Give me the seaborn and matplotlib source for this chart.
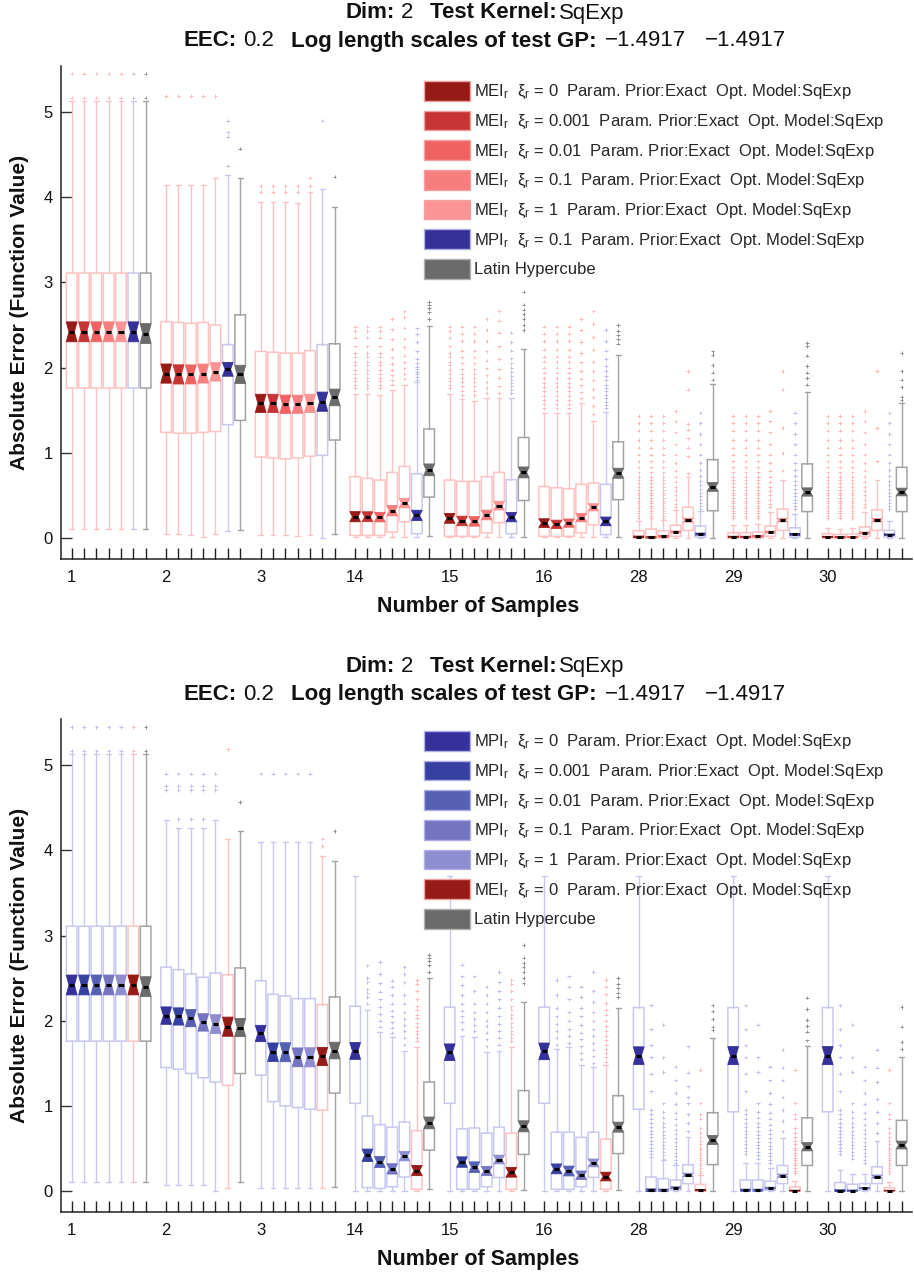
import numpy as np
import pandas as pd
import matplotlib
matplotlib.use("Agg")
import matplotlib.pyplot as plt
import seaborn as sns
from matplotlib.patches import Patch

sns.set_theme(style="white")
plt.rcParams['font.family'] = ['Liberation Sans', 'DejaVu Sans']
plt.rcParams['mathtext.fontset'] = 'custom'
plt.rcParams['mathtext.rm'] = 'Liberation Sans'
plt.rcParams['mathtext.it'] = 'Liberation Sans:italic'
plt.rcParams['mathtext.bf'] = 'Liberation Sans:bold'

# ---------------- data ----------------
GROUP_LABELS = ["1", "2", "3", "14", "15", "16", "28", "29", "30"]
N_RUNS = 330  # runs per box (sets notch width)

# TOP panel: series = MEI xi 0, 0.001, 0.01, 0.1, 1, MPI 0.1, LHC
TOP_METHOD = ["MEI", "MEI", "MEI", "MEI", "MEI", "MPI"]
TOP_XI = ["0", "0.001", "0.01", "0.1", "1", "0.1"]
TOP_KIND = ["MEI", "MEI", "MEI", "MEI", "MEI", "MPI", "LHC"]
TOP_FILL = ["#961b16", "#c73434", "#f06262", "#f77e7e", "#fb9494", "#363099", "#6b6b6b"]

TOP_Q1 = [[1.76, 1.76, 1.76, 1.76, 1.76, 1.76, 1.76],
          [1.24, 1.23, 1.23, 1.24, 1.25, 1.33, 1.38],
          [0.95, 0.94, 0.93, 0.94, 0.96, 0.97, 1.15],
          [0.03, 0.03, 0.03, 0.07, 0.19, 0.05, 0.48],
          [0.02, 0.02, 0.02, 0.06, 0.18, 0.05, 0.44],
          [0.02, 0.02, 0.02, 0.06, 0.156, 0.04, 0.45],
          [0.0, 0.0, 0.0, 0.02, 0.09, 0.01, 0.32],
          [0.0, 0.0, 0.0, 0.02, 0.09, 0.01, 0.31],
          [0.0, 0.0, 0.0, 0.02, 0.09, 0.01, 0.31]]
TOP_MED = [[2.42, 2.42, 2.42, 2.42, 2.42, 2.42, 2.40],
           [1.93, 1.92, 1.92, 1.93, 1.95, 1.98, 1.92],
           [1.58, 1.58, 1.57, 1.57, 1.58, 1.60, 1.65],
           [0.25, 0.25, 0.245, 0.32, 0.41, 0.265, 0.80],
           [0.23, 0.20, 0.195, 0.27, 0.38, 0.245, 0.77],
           [0.175, 0.16, 0.175, 0.24, 0.36, 0.195, 0.76],
           [0.015, 0.01, 0.02, 0.07, 0.21, 0.046, 0.60],
           [0.015, 0.015, 0.02, 0.07, 0.21, 0.043, 0.54],
           [0.015, 0.01, 0.013, 0.06, 0.21, 0.04, 0.54]]
TOP_Q3 = [[3.11, 3.11, 3.11, 3.11, 3.11, 3.11, 3.11],
          [2.54, 2.53, 2.52, 2.53, 2.50, 2.27, 2.62],
          [2.19, 2.18, 2.17, 2.17, 2.20, 2.27, 2.28],
          [0.72, 0.70, 0.68, 0.77, 0.84, 0.755, 1.28],
          [0.68, 0.665, 0.665, 0.72, 0.77, 0.685, 1.18],
          [0.605, 0.59, 0.58, 0.63, 0.645, 0.63, 1.13],
          [0.086, 0.105, 0.086, 0.15, 0.36, 0.14, 0.92],
          [0.063, 0.063, 0.07, 0.14, 0.34, 0.12, 0.87],
          [0.05, 0.043, 0.047, 0.13, 0.33, 0.09, 0.83]]
TOP_WLO = [[0.10, 0.10, 0.10, 0.10, 0.10, 0.10, 0.10],
           [0.05, 0.05, 0.035, 0.01, 0.05, 0.08, 0.09],
           [0.03, 0.03, 0.03, 0.02, 0.03, 0.0, 0.05],
           [0.01, 0.01, 0.01, 0.01, 0.01, 0.01, 0.02],
           [0.01, 0.01, 0.01, 0.01, 0.01, 0.01, 0.01],
           [0.01, 0.01, 0.01, 0.01, 0.01, 0.01, 0.01],
           [0.0, 0.0, 0.0, 0.0, 0.0, 0.0, 0.0],
           [0.0, 0.0, 0.0, 0.0, 0.0, 0.0, 0.0],
           [0.0, 0.0, 0.0, 0.0, 0.0, 0.0, 0.0]]
TOP_WHI = [[5.13, 5.13, 5.13, 5.13, 5.13, 5.13, 5.13],
           [4.14, 4.14, 4.14, 4.14, 4.23, 4.26, 4.23],
           [3.94, 3.94, 3.94, 3.93, 4.06, 4.10, 3.88],
           [1.69, 1.69, 1.68, 1.74, 1.80, 1.83, 2.49],
           [1.69, 1.63, 1.61, 1.64, 1.64, 1.64, 2.22],
           [1.47, 1.47, 1.47, 1.58, 1.37, 1.48, 2.15],
           [0.20, 0.235, 0.21, 0.33, 0.715, 0.32, 1.81],
           [0.15, 0.15, 0.17, 0.31, 0.68, 0.28, 1.71],
           [0.12, 0.11, 0.12, 0.30, 0.68, 0.20, 1.58]]

FL_G1 = [5.17, 5.45]
FL_MEI_14 = [1.76, 1.80, 1.84, 1.88, 1.93, 1.97, 2.03, 2.07, 2.13, 2.17, 2.25, 2.35, 2.43, 2.48]
FL_MEI_15 = [1.68, 1.73, 1.78, 1.83, 1.88, 1.93, 1.98, 2.05, 2.12, 2.20, 2.31, 2.40, 2.48]
FL_MEI_16 = [1.52, 1.57, 1.62, 1.67, 1.72, 1.77, 1.82, 1.88, 1.94, 2.00, 2.07, 2.13, 2.21, 2.31, 2.40, 2.48]
FL_MEI_LATE = [0.23, 0.26, 0.29, 0.32, 0.35, 0.38, 0.41, 0.44, 0.47, 0.50, 0.53, 0.56, 0.60,
               0.64, 0.68, 0.72, 0.77, 0.83, 0.90, 0.98, 1.06, 1.15, 1.26, 1.35, 1.43]
FL_MEI01_LATE = [0.36, 0.40, 0.45, 0.50, 0.55, 0.60, 0.66, 0.72, 0.79, 0.88, 0.98, 1.10, 1.24, 1.37, 1.49]
FL_MPI_LATE = [0.34, 0.37, 0.41, 0.45, 0.49, 0.53, 0.57, 0.62, 0.67, 0.73, 0.80, 0.88, 0.98,
               1.10, 1.22, 1.35, 1.47]

TOP_FLIERS = [
    [FL_G1] * 7,
    [[5.19]] * 5 + [[4.37, 4.71, 4.76, 4.90], [4.57]],
    [[4.06, 4.13]] * 4 + [[4.13, 4.23], [4.90], [4.24]],
    [FL_MEI_14, FL_MEI_14, FL_MEI_14,
     [1.80, 1.85, 1.91, 1.97, 2.04, 2.12, 2.22, 2.33, 2.45, 2.57],
     [1.87, 1.93, 1.99, 2.06, 2.14, 2.24, 2.34, 2.47, 2.59, 2.66],
     [1.86, 1.89, 1.92, 1.95, 1.98, 2.01, 2.05, 2.10, 2.19, 2.30, 2.39, 2.46],
     [2.57, 2.65, 2.70, 2.74, 2.77]],
    [FL_MEI_14, FL_MEI_15, FL_MEI_15,
     [1.70, 1.76, 1.83, 1.91, 1.99, 2.08, 2.19, 2.31, 2.44, 2.57],
     [1.70, 1.78, 1.88, 1.98, 2.10, 2.25, 2.41, 2.55, 2.66],
     [1.70, 1.74, 1.78, 1.82, 1.86, 1.90, 1.95, 2.00, 2.05, 2.11, 2.20, 2.30, 2.41],
     [2.44, 2.50, 2.57, 2.63, 2.68, 2.74, 2.89]],
    [FL_MEI_16, FL_MEI_16, FL_MEI_16,
     [1.64, 1.71, 1.79, 1.87, 1.96, 2.06, 2.17, 2.30, 2.44, 2.57],
     [1.45, 1.55, 1.65, 1.75, 1.85, 1.96, 2.07, 2.21, 2.36, 2.51, 2.66],
     [1.52, 1.56, 1.60, 1.64, 1.68, 1.72, 1.76, 1.80, 1.85, 1.90, 1.96, 2.02, 2.10, 2.20, 2.31, 2.44],
     [2.28, 2.33, 2.38, 2.43, 2.50]],
    [FL_MEI_LATE, FL_MEI_LATE, FL_MEI_LATE, FL_MEI01_LATE,
     [0.76, 0.96, 1.06, 1.17, 1.27, 1.34, 1.74, 1.96], FL_MPI_LATE,
     [1.86, 1.94, 2.03, 2.15, 2.19]],
    [FL_MEI_LATE, FL_MEI_LATE, FL_MEI_LATE, FL_MEI01_LATE,
     [0.79, 1.00, 1.29, 1.74, 1.96], FL_MPI_LATE,
     [1.80, 1.88, 1.94, 2.02, 2.14, 2.25, 2.29]],
    [FL_MEI_LATE, FL_MEI_LATE, FL_MEI_LATE, FL_MEI01_LATE,
     [0.90, 1.29, 1.96], FL_MPI_LATE,
     [1.62, 1.66, 1.77, 1.86, 1.96, 2.17]],
]

# BOTTOM panel: series = MPI xi 0, 0.001, 0.01, 0.1, 1, MEI 0, LHC
BOT_METHOD = ["MPI", "MPI", "MPI", "MPI", "MPI", "MEI"]
BOT_XI = ["0", "0.001", "0.01", "0.1", "1", "0"]
BOT_KIND = ["MPI", "MPI", "MPI", "MPI", "MPI", "MEI", "LHC"]
BOT_FILL = ["#35309a", "#3640a0", "#5560b3", "#7474c1", "#8d8dd0", "#961b16", "#6b6b6b"]

BOT_Q1 = [[1.76, 1.76, 1.76, 1.76, 1.76, 1.76, 1.76],
          [1.45, 1.43, 1.38, 1.33, 1.28, 1.24, 1.38],
          [1.36, 1.05, 1.00, 0.98, 0.96, 0.95, 1.15],
          [1.03, 0.04, 0.03, 0.05, 0.165, 0.02, 0.48],
          [1.03, 0.02, 0.02, 0.05, 0.158, 0.02, 0.43],
          [1.03, 0.02, 0.02, 0.05, 0.16, 0.02, 0.44],
          [0.96, 0.0, 0.0, 0.01, 0.087, 0.0, 0.31],
          [0.93, 0.0, 0.0, 0.01, 0.087, 0.0, 0.30],
          [0.93, 0.0, 0.0, 0.01, 0.087, 0.0, 0.30]]
BOT_MED = [[2.42, 2.42, 2.42, 2.42, 2.42, 2.42, 2.40],
           [2.06, 2.05, 2.03, 1.98, 1.96, 1.93, 1.92],
           [1.85, 1.63, 1.63, 1.57, 1.57, 1.58, 1.65],
           [1.645, 0.42, 0.34, 0.26, 0.41, 0.24, 0.80],
           [1.63, 0.34, 0.28, 0.235, 0.37, 0.22, 0.76],
           [1.64, 0.26, 0.235, 0.185, 0.33, 0.17, 0.75],
           [1.59, 0.01, 0.01, 0.04, 0.19, 0.01, 0.60],
           [1.59, 0.01, 0.01, 0.035, 0.18, 0.005, 0.52],
           [1.59, 0.005, 0.005, 0.035, 0.17, 0.005, 0.54]]
BOT_Q3 = [[3.11, 3.11, 3.11, 3.11, 3.11, 3.11, 3.11],
          [2.63, 2.60, 2.55, 2.51, 2.56, 2.54, 2.62],
          [2.47, 2.31, 2.29, 2.26, 2.26, 2.19, 2.28],
          [2.17, 0.88, 0.78, 0.75, 0.81, 0.71, 1.28],
          [2.16, 0.73, 0.74, 0.68, 0.75, 0.68, 1.18],
          [2.16, 0.69, 0.69, 0.63, 0.69, 0.61, 1.12],
          [2.155, 0.165, 0.145, 0.13, 0.31, 0.078, 0.92],
          [2.155, 0.13, 0.13, 0.115, 0.30, 0.05, 0.86],
          [2.155, 0.10, 0.08, 0.087, 0.285, 0.04, 0.83]]
BOT_WLO = [[0.10, 0.10, 0.10, 0.10, 0.10, 0.10, 0.10],
           [0.075, 0.075, 0.07, 0.07, 0.0, 0.04, 0.10],
           [0.03, 0.03, 0.03, 0.03, 0.03, 0.03, 0.05],
           [0.0, 0.0, 0.0, 0.0, 0.0, 0.0, 0.02],
           [0.0, 0.0, 0.0, 0.0, 0.0, 0.0, 0.01],
           [0.0, 0.0, 0.0, 0.0, 0.0, 0.0, 0.01],
           [0.0, 0.0, 0.0, 0.0, 0.0, 0.0, 0.0],
           [0.0, 0.0, 0.0, 0.0, 0.0, 0.0, 0.0],
           [0.0, 0.0, 0.0, 0.0, 0.0, 0.0, 0.0]]
BOT_WHI = [[5.13, 5.13, 5.13, 5.13, 5.13, 5.13, 5.13],
           [4.36, 4.26, 4.26, 4.26, 4.36, 4.14, 4.23],
           [4.10, 4.10, 4.10, 4.10, 4.10, 3.94, 3.88],
           [3.70, 2.13, 1.87, 1.81, 1.65, 1.69, 2.50],
           [3.70, 1.82, 1.81, 1.63, 1.65, 1.69, 2.22],
           [3.70, 1.67, 1.69, 1.48, 1.46, 1.48, 2.15],
           [3.70, 0.40, 0.36, 0.31, 0.63, 0.19, 1.80],
           [3.70, 0.33, 0.33, 0.27, 0.62, 0.12, 1.70],
           [3.70, 0.25, 0.20, 0.20, 0.59, 0.10, 1.57]]

FL_MPI001_LATE = [0.43, 0.47, 0.51, 0.55, 0.59, 0.63, 0.67, 0.71, 0.75, 0.80, 0.85, 0.90, 0.95,
                  1.17, 1.38, 1.57, 1.71, 1.90, 2.18]
FL_MPI0001_LATE = [0.38, 0.42, 0.46, 0.50, 0.54, 0.58, 0.62, 0.66, 0.70, 0.75, 0.80, 0.86, 0.93,
                   1.03, 1.40, 1.57, 1.955]
FL_MPI01B_LATE = [0.33, 0.37, 0.41, 0.45, 0.49, 0.53, 0.57, 0.62, 0.67, 0.72, 0.78, 0.85, 0.92,
                  1.02, 1.15, 1.30, 1.46]
FL_MEI0B_LATE = [0.21, 0.24, 0.27, 0.30, 0.33, 0.36, 0.39, 0.42, 0.45, 0.48, 0.51, 0.55, 0.59,
                 0.63, 0.68, 0.74, 0.85, 0.90, 1.03, 1.42]

BOT_FLIERS = [
    [FL_G1] * 7,
    [[4.71, 4.76, 4.90]] + [[4.37, 4.71, 4.76, 4.90]] * 3 + [[4.71, 4.76, 4.90], [5.19], [4.57]],
    [[4.90]] * 5 + [[4.05, 4.14], [4.23]],
    [[], [2.20, 2.28, 2.33, 2.37, 2.45, 2.50, 2.65],
     [1.93, 2.00, 2.08, 2.16, 2.25, 2.34, 2.44, 2.55, 2.69],
     [1.86, 1.92, 1.98, 2.05, 2.12, 2.20, 2.30, 2.40, 2.47],
     [1.72, 1.80, 1.88, 1.95, 2.02, 2.10, 2.20, 2.30, 2.45, 2.55, 2.63],
     FL_MEI_14, [2.57, 2.65, 2.70, 2.74, 2.77]],
    [[], [1.90, 1.98, 2.05, 2.12, 2.20, 2.30, 2.42, 2.52, 2.66],
     [1.88, 1.95, 2.02, 2.10, 2.20, 2.35, 2.52],
     [1.70, 1.78, 1.86, 1.94, 2.00, 2.10, 2.20, 2.30, 2.40],
     [1.72, 1.80, 1.88, 1.96, 2.05, 2.15, 2.25, 2.35, 2.45, 2.57],
     FL_MEI_14, [2.44, 2.50, 2.57, 2.63, 2.68, 2.74, 2.89]],
    [[], [1.72, 1.80, 1.88, 1.96, 2.05, 2.15, 2.30, 2.48],
     [1.74, 1.82, 1.90, 2.00, 2.10, 2.25, 2.40, 2.52],
     [1.55, 1.62, 1.70, 1.78, 1.86, 1.95, 2.05, 2.15, 2.28, 2.40],
     [1.50, 1.58, 1.66, 1.74, 1.82, 1.90, 2.00, 2.10, 2.22, 2.35, 2.57],
     FL_MEI_16, [2.28, 2.33, 2.38, 2.43, 2.50]],
    [[], FL_MPI001_LATE, FL_MPI0001_LATE, FL_MPI01B_LATE,
     [0.70, 0.80, 0.90, 1.03, 1.10, 1.23, 1.39, 1.70], FL_MEI0B_LATE,
     [1.89, 1.93, 2.02, 2.11, 2.18]],
    [[], FL_MPI001_LATE, FL_MPI0001_LATE, FL_MPI01B_LATE,
     [0.70, 0.82, 0.95, 1.10, 1.30, 1.45, 1.66], FL_MEI0B_LATE,
     [1.77, 1.87, 1.94, 2.01, 2.14, 2.27]],
    [[], FL_MPI001_LATE, FL_MPI0001_LATE, FL_MPI01B_LATE,
     [0.68, 0.80, 0.93, 1.08, 1.28, 1.45, 1.66], FL_MEI0B_LATE,
     [1.67, 1.75, 1.93, 2.16]],
]

# title pieces: (text, weight, gap after in px)
TITLE1 = [("Dim:", "bold", 6), ("2", "normal", 17), ("Test Kernel:", "bold", 2), ("SqExp", "normal", 0)]
TITLE2 = [("EEC:", "bold", 6), ("0.2", "normal", 17), ("Log length scales of test GP:", "bold", 9),
          ("−1.4917", "normal", 18), ("−1.4917", "normal", 0)]

# ---------------- styling ----------------
EDGE = {"MEI": "#ffc2c2", "MPI": "#c8c8f0", "LHC": "#a3a3a3"}
FLIER = {"MEI": "#ffb8b8", "MPI": "#bcbcee", "LHC": "#8e8e8e"}
LEG_EDGE = {"MEI": "#f0a0a0", "MPI": "#b0b0e6", "LHC": "#b0b0b0"}
GROUP_STEP = 7.664
BOX_W = 0.86
CAP_W = 0.4
W, H = 914, 1278


def legend_labels(methods, xis):
    labs = []
    for m, xi in zip(methods, xis):
        labs.append(m + r"$_{\mathregular{r}}$  ξ$_{\mathregular{r}}$ = " + xi +
                    "  Param. Prior:Exact  Opt. Model:SqExp")
    labs.append("Latin Hypercube")
    return labs


def draw_panel(ax, Q1, MED, Q3, WLO, WHI, FL, kinds, fills, labels, leg_xy):
    rows = []
    for j in range(7):
        stats, pos = [], []
        for g in range(len(GROUP_LABELS)):
            q1, med, q3 = Q1[g][j], MED[g][j], Q3[g][j]
            half = 1.57 * (q3 - q1) / np.sqrt(N_RUNS)
            stats.append(dict(med=med, q1=q1, q3=q3, whislo=WLO[g][j], whishi=WHI[g][j],
                              cilo=med - half, cihi=med + half, fliers=[]))
            p = g * GROUP_STEP + j
            pos.append(p)
            for v in FL[g][j]:
                rows.append(dict(pos=p, val=v, kind=kinds[j]))
        ec = EDGE[kinds[j]]
        ax.bxp(stats, positions=pos, widths=BOX_W, shownotches=True, patch_artist=True,
               showfliers=False, capwidths=CAP_W, manage_ticks=False, zorder=2,
               boxprops=dict(facecolor="white", edgecolor=ec, linewidth=1.1),
               whiskerprops=dict(color=ec, linewidth=1.0),
               capprops=dict(color=ec, linewidth=1.0),
               medianprops=dict(color="black", linewidth=2.2, solid_capstyle="butt", zorder=3))
        for p, s in zip(pos, stats):
            xs = [p - BOX_W / 2, p + BOX_W / 2, p + BOX_W / 4, p + BOX_W / 2, p - BOX_W / 2, p - BOX_W / 4]
            ys = [s["cilo"], s["cilo"], s["med"], s["cihi"], s["cihi"], s["med"]]
            ax.fill(xs, ys, facecolor=fills[j], edgecolor=fills[j], linewidth=0.6, zorder=2.5)
    df = pd.DataFrame(rows)
    sns.scatterplot(data=df, x="pos", y="val", hue="kind", palette=FLIER, marker="+",
                    s=6, linewidth=0.7, legend=False, ax=ax, zorder=1.5)

    all_pos = [g * GROUP_STEP + j for g in range(len(GROUP_LABELS)) for j in range(7)]
    all_lab = [GROUP_LABELS[g] if j == 0 else "" for g in range(len(GROUP_LABELS)) for j in range(7)]
    ax.set_xticks(all_pos)
    ax.set_xticklabels(all_lab)
    ax.set_xlim(-0.84, 68.15)
    ax.set_ylim(-0.25, 5.54)
    ax.set_yticks([0, 1, 2, 3, 4, 5])
    ax.set_yticklabels(["0", "1", "2", "3", "4", "5"])
    ax.tick_params(axis="x", direction="in", length=8, width=1, pad=7.5, labelsize=12,
                   color="#222222", labelcolor="#111111", bottom=True)
    ax.tick_params(axis="y", direction="in", length=8, width=1, pad=6, labelsize=12,
                   color="#333333", labelcolor="#111111", left=True)
    for sp in ["top", "right"]:
        ax.spines[sp].set_visible(False)
    for sp in ["left", "bottom"]:
        ax.spines[sp].set_color("#222222")
        ax.spines[sp].set_linewidth(1.1)
    ax.set_xlabel("Number of Samples", fontsize=15.5, fontweight="bold", color="#111111")
    ax.xaxis.set_label_coords(0.49, -0.074)
    ax.set_ylabel("Absolute Error (Function Value)", fontsize=15, fontweight="bold", color="#111111")
    ax.yaxis.set_label_coords(-0.038, 0.5)

    handles = [Patch(facecolor=fills[j], edgecolor=LEG_EDGE[kinds[j]], linewidth=1) for j in range(7)]
    ax.legend(handles, labels, loc="upper left", bbox_to_anchor=leg_xy,
              bbox_transform=ax.figure.transFigure, frameon=False, fontsize=12,
              handlelength=2.75, handleheight=1.45, labelspacing=0.55, handletextpad=0.28,
              borderpad=0, borderaxespad=0)


def rich_line(fig, xc_px, yc_px, parts, fs):
    r = fig.canvas.get_renderer()
    texts, widths = [], []
    for s, w, gap in parts:
        t = fig.text(0, 1 - yc_px / H, s, fontsize=fs, fontweight=w, ha="left", va="center",
                     color="#111111")
        texts.append(t)
        widths.append(t.get_window_extent(r).width + gap)
    x = xc_px - sum(widths) / 2
    for t, wd in zip(texts, widths):
        t.set_x(x / W)
        x += wd


fig = plt.figure(figsize=(W / 100, H / 100), dpi=100)
ax_left, ax_w = 61.3 / W, (912 - 61.3) / W
ax_top = fig.add_axes([ax_left, 1 - 559.3 / H, ax_w, (559.3 - 66) / H])
ax_bot = fig.add_axes([ax_left, 1 - 1212.3 / H, ax_w, (1212.3 - 719.3) / H])

draw_panel(ax_top, TOP_Q1, TOP_MED, TOP_Q3, TOP_WLO, TOP_WHI, TOP_FLIERS, TOP_KIND, TOP_FILL,
           legend_labels(TOP_METHOD, TOP_XI), (424 / W, 1 - 81 / H))
draw_panel(ax_bot, BOT_Q1, BOT_MED, BOT_Q3, BOT_WLO, BOT_WHI, BOT_FLIERS, BOT_KIND, BOT_FILL,
           legend_labels(BOT_METHOD, BOT_XI), (424 / W, 1 - 731 / H))

xc = (61.3 + 912) / 2 - 2
for top_px in (66, 719.3):
    rich_line(fig, xc, top_px - 53, TITLE1, 16)
    rich_line(fig, xc, top_px - 25, TITLE2, 16)

fig.savefig("out.png", dpi=100)
